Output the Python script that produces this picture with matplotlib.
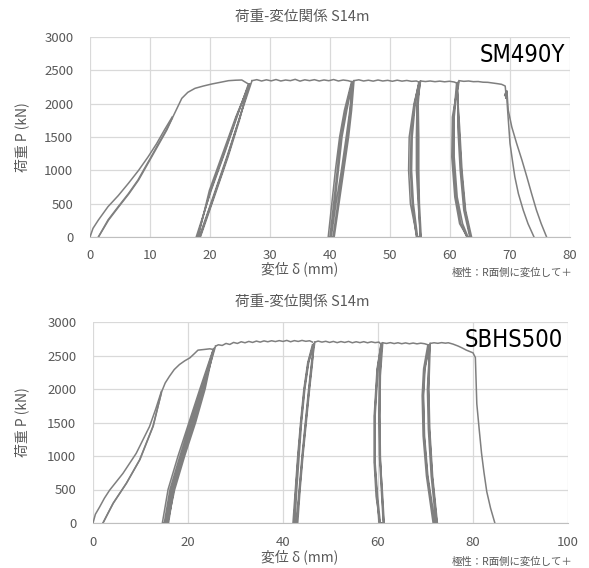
"""Load-displacement curves (S14m) for SM490Y and SBHS500 specimens."""

import matplotlib
matplotlib.use("Agg")
import matplotlib.pyplot as plt
from matplotlib import font_manager as fm

plt.rcParams["font.family"] = ["Noto Sans CJK JP", "DejaVu Sans"]

TITLE = "荷重-変位関係 S14m"
X_LABEL = "変位 δ (mm)"
Y_LABEL = "荷重 P (kN)"
NOTE = "極性：R面側に変位して＋"
Y_TICKS = [0, 500, 1000, 1500, 2000, 2500, 3000]

# ---- SM490Y (top) -------------------------------------------------------
SM_NAME = "SM490Y"
SM_X_TICKS = [0, 10, 20, 30, 40, 50, 60, 70, 80]

sm_first_d = [0, 0.5, 1.4, 3.0, 4.7, 6.4, 8.1, 9.7, 11.1, 12.4, 13.7]
sm_first_p = [0, 130, 255, 455, 620, 805, 1000, 1205, 1400, 1605, 1800]
sm_back_d = [13.7, 12.7, 11.4, 10.2, 8.9, 8.0, 6.4, 4.7, 3.0, 1.4]
sm_back_p = [1780, 1605, 1400, 1205, 1000, 855, 650, 455, 255, 0]
sm_skel_d = [1.4, 3.1, 4.8, 6.5, 8.1, 10.3, 12.8, 13.7, 14.5, 15.3, 16.3,
             17.5, 18.9, 20.3, 21.7, 23.1, 24.3, 25.3, 26.4]
sm_skel_p = [0, 255, 455, 650, 855, 1205, 1605, 1780, 1930, 2080, 2170,
             2230, 2265, 2295, 2320, 2345, 2352, 2355, 2295]

sm_loop1_d = [26.4, 24.5, 22.4, 20.2, 17.7, 18.4, 20.9, 23.0, 24.9, 26.5,
              24.4, 22.3, 20.1, 17.9, 18.2, 20.7, 22.8, 24.8, 26.6,
              24.3, 22.1, 19.9, 18.0, 18.3, 20.8, 22.9, 24.8, 27.0]
sm_loop1_p = [2295, 1800, 1250, 700, 0, 0, 650, 1200, 1750, 2290,
              1800, 1250, 700, 0, 0, 650, 1200, 1750, 2300,
              1800, 1250, 700, 0, 0, 650, 1200, 1750, 2345]

sm_plat1_d = [27.0, 27.8, 28.6, 29.4, 30.2, 31.0, 31.8, 32.6, 33.4, 34.2, 35.0,
              35.8, 36.6, 37.4, 38.2, 39.0, 39.8, 40.6, 41.4, 42.2, 43.0, 43.6]
sm_plat1_p = [2345, 2360, 2340, 2358, 2342, 2362, 2340, 2355, 2345, 2365, 2338,
              2358, 2345, 2360, 2340, 2356, 2344, 2362, 2340, 2355, 2345, 2330]

sm_loop2_d = [43.6, 42.4, 41.6, 40.9, 40.3, 39.7, 40.5, 41.3, 42.1, 42.9, 43.4, 43.7,
              42.6, 41.8, 41.2, 40.6, 40.0, 40.2, 41.0, 41.9, 42.7, 43.3, 43.8,
              42.8, 42.0, 41.4, 40.8, 40.1, 40.7, 41.5, 42.3, 43.1, 43.6, 44.0]
sm_loop2_p = [2330, 1900, 1500, 1000, 500, 0, 0, 500, 1000, 1500, 1900, 2330,
              1900, 1500, 1000, 500, 0, 0, 500, 1000, 1500, 1900, 2335,
              1900, 1500, 1000, 500, 0, 0, 500, 1000, 1500, 1900, 2345]

sm_plat2_d = [44.0, 44.8, 45.6, 46.4, 47.2, 48.0, 48.8, 49.6, 50.4, 51.2, 52.0,
              52.8, 53.6, 54.4, 54.8]
sm_plat2_p = [2345, 2358, 2340, 2352, 2338, 2355, 2340, 2350, 2336, 2352, 2338,
              2348, 2335, 2340, 2325]

sm_loop3_d = [54.8, 54.1, 53.5, 53.4, 53.7, 54.4, 55.0, 54.8, 54.6, 54.6, 54.6, 54.9,
              54.0, 53.2, 53.1, 53.4, 54.5, 55.2, 54.9, 54.8, 54.8, 54.7, 55.0,
              54.2, 53.7, 53.6, 53.9, 54.6, 55.1, 54.7, 54.4, 54.4, 54.5, 55.1]
sm_loop3_p = [2325, 2000, 1500, 1000, 500, 0, 0, 500, 1000, 1500, 2000, 2330,
              2000, 1500, 1000, 500, 0, 0, 500, 1000, 1500, 2000, 2335,
              2000, 1500, 1000, 500, 0, 0, 500, 1000, 1500, 2000, 2340]

sm_plat3_d = [55.1, 55.9, 56.7, 57.5, 58.3, 59.1, 59.9, 60.7, 61.1]
sm_plat3_p = [2340, 2332, 2340, 2330, 2338, 2328, 2336, 2325, 2310]

sm_loop4_d = [61.1, 60.6, 60.5, 61.0, 61.8, 62.8, 63.6, 62.6, 62.0, 61.6, 61.2, 61.3,
              60.7, 60.7, 61.2, 62.1, 63.0, 63.4, 62.5, 61.9, 61.5, 61.2, 61.4,
              60.4, 60.3, 60.8, 61.6, 62.9, 63.3, 62.3, 61.7, 61.3, 61.3, 61.5]
sm_loop4_p = [2310, 1800, 1200, 600, 200, 0, 0, 400, 1000, 1650, 2200, 2320,
              1800, 1200, 600, 200, 0, 0, 400, 1000, 1650, 2200, 2325,
              1800, 1200, 600, 200, 0, 0, 400, 1000, 1650, 2200, 2335]

sm_plat4_d = [61.5, 62.3, 63.1, 63.9, 64.7, 65.5, 66.3, 67.1, 67.9, 68.6, 69.2,
              69.3, 69.1, 69.5, 69.3, 69.5]
sm_plat4_p = [2345, 2335, 2340, 2330, 2332, 2322, 2320, 2310, 2300, 2290, 2265,
              2170, 2120, 2190, 2080, 2180]

sm_tail_out_d = [69.5, 69.7, 70.3, 71.1, 72.0, 72.8, 73.6, 74.4, 75.2, 76.1]
sm_tail_out_p = [2180, 1905, 1650, 1405, 1150, 905, 650, 405, 200, 0]
sm_tail_in_d = [69.4, 69.6, 70.0, 70.4, 70.8, 71.4, 72.2, 73.0, 74.0]
sm_tail_in_p = [2180, 1905, 1405, 1150, 905, 650, 405, 200, 0]

# ---- SBHS500 (bottom) ---------------------------------------------------
SB_NAME = "SBHS500"
SB_X_TICKS = [0, 20, 40, 60, 80, 100]

sb_first_d = [0, 0.5, 1.4, 2.4, 3.5, 4.9, 6.3, 7.7, 9.1, 10.5, 11.9, 13.2, 14.4]
sb_first_p = [0, 130, 240, 370, 490, 615, 740, 890, 1040, 1240, 1440, 1700, 1965]
sb_back_d = [14.4, 13.5, 12.6, 11.2, 9.8, 8.4, 7.0, 5.6, 4.2, 3.1, 2.1]
sb_back_p = [1940, 1690, 1440, 1190, 940, 765, 590, 440, 290, 140, 0]
sb_skel_d = [2.1, 3.2, 4.3, 5.7, 7.1, 8.5, 9.9, 11.3, 12.7, 14.4, 15.2, 16.1,
             17.1, 18.2, 19.3, 20.4, 21.3, 22.1, 23.4, 24.6, 25.3]
sb_skel_p = [0, 150, 300, 450, 600, 775, 950, 1200, 1450, 1950, 2090, 2190,
             2290, 2365, 2420, 2465, 2525, 2580, 2590, 2600, 2590]

sb_loop1_d = [25.3, 22.5, 20.2, 17.9, 15.8, 14.6, 15.7, 17.2, 19.3, 21.6, 23.6, 25.4,
              22.8, 20.5, 18.3, 16.2, 15.0, 15.9, 17.0, 19.0, 21.3, 23.3, 25.5,
              23.0, 20.8, 18.6, 16.5, 15.3, 15.5, 16.8, 18.8, 21.0, 23.2, 25.8]
sb_loop1_p = [2590, 2000, 1500, 1000, 500, 0, 0, 500, 1000, 1500, 2000, 2600,
              2000, 1500, 1000, 500, 0, 0, 500, 1000, 1500, 2000, 2610,
              2000, 1500, 1000, 500, 0, 0, 500, 1000, 1500, 2000, 2640]

sb_plat1_d = [25.8, 26.4, 27.2, 28.0, 28.8, 29.6, 30.4, 31.2, 32.0, 32.8, 33.6,
              34.4, 35.2, 36.0, 36.8, 37.6, 38.4, 39.2, 40.0, 40.8, 41.6, 42.4,
              43.2, 44.0, 44.8, 45.6, 46.2]
sb_plat1_p = [2640, 2660, 2650, 2680, 2665, 2695, 2680, 2705, 2690, 2710, 2695,
              2715, 2700, 2718, 2705, 2720, 2708, 2722, 2710, 2725, 2705, 2722,
              2710, 2725, 2712, 2720, 2700]

sb_loop2_d = [46.2, 45.2, 44.4, 43.7, 43.1, 42.6, 42.1, 43.1, 43.6, 44.2, 44.9, 45.6, 46.2, 46.4,
              45.3, 44.5, 43.8, 43.2, 42.7, 42.3, 42.8, 43.4, 44.0, 44.7, 45.4, 46.0, 46.5,
              45.4, 44.6, 43.9, 43.4, 42.9, 42.5, 42.9, 43.5, 44.1, 44.8, 45.5, 46.1, 46.7]
sb_loop2_p = [2660, 2390, 2000, 1500, 1000, 500, 0, 0, 500, 1000, 1500, 2000, 2390, 2670,
              2390, 2000, 1500, 1000, 500, 0, 0, 500, 1000, 1500, 2000, 2390, 2680,
              2390, 2000, 1500, 1000, 500, 0, 0, 500, 1000, 1500, 2000, 2390, 2700]

sb_plat2_d = [46.7, 47.4, 48.2, 49.0, 49.8, 50.6, 51.4, 52.2, 53.0, 53.8, 54.6,
              55.4, 56.2, 57.0, 57.8, 58.6, 59.4, 60.2, 60.6]
sb_plat2_p = [2700, 2715, 2700, 2712, 2695, 2710, 2692, 2708, 2695, 2710, 2690,
              2705, 2692, 2706, 2690, 2704, 2692, 2700, 2670]

sb_loop3_d = [60.6, 59.9, 59.3, 59.3, 59.8, 60.2, 61.1, 60.7, 60.3, 60.2, 60.3, 60.7,
              59.8, 59.2, 59.2, 59.6, 60.4, 61.3, 60.9, 60.4, 60.3, 60.4, 60.8,
              60.0, 59.4, 59.4, 59.9, 60.5, 61.2, 60.8, 60.5, 60.4, 60.5, 61.0]
sb_loop3_p = [2670, 2300, 1600, 900, 400, 0, 0, 500, 1000, 1600, 2200, 2680,
              2300, 1600, 900, 400, 0, 0, 500, 1000, 1600, 2200, 2685,
              2300, 1600, 900, 400, 0, 0, 500, 1000, 1600, 2200, 2690]

sb_plat3_d = [61.0, 61.8, 62.6, 63.4, 64.2, 65.0, 65.8, 66.6, 67.4, 68.2, 69.0,
              69.8, 70.5]
sb_plat3_p = [2690, 2680, 2692, 2678, 2690, 2676, 2688, 2675, 2686, 2674, 2684,
              2676, 2660]

sb_loop4_d = [70.5, 69.6, 69.3, 69.5, 70.2, 71.6, 72.4, 71.4, 70.8, 70.6, 70.8,
              69.8, 69.5, 69.7, 70.4, 71.8, 72.2, 71.2, 70.6, 70.4, 70.9,
              69.9, 69.6, 69.8, 70.5, 72.0, 72.5, 71.5, 70.9, 70.7, 71.0]
sb_loop4_p = [2660, 2300, 1900, 1300, 700, 0, 0, 700, 1400, 2000, 2660,
              2300, 1900, 1300, 700, 0, 0, 700, 1400, 2000, 2665,
              2300, 1900, 1300, 700, 0, 0, 700, 1400, 2000, 2680]

sb_plat4_d = [71.0, 71.8, 72.6, 73.4, 74.2, 74.8, 75.8, 76.9, 77.8, 78.6, 79.3,
              80.0, 80.5, 80.8, 81.3, 81.8, 82.3, 82.9, 83.7, 84.6]
sb_plat4_p = [2680, 2690, 2682, 2692, 2684, 2690, 2670, 2640, 2610, 2580, 2560,
              2540, 2470, 1780, 1400, 1040, 760, 467, 220, 0]


def narrow_font():
    """Pick an installed condensed sans face for the specimen labels."""
    fonts = fm.fontManager.ttflist
    for f in fonts:
        if f.name == "Liberation Sans Narrow" and f.weight in (400, "normal", "regular") \
                and f.style == "normal":
            return fm.FontProperties(fname=f.fname)
    for f in fonts:
        if f.stretch in ("condensed", "semi-condensed", "extra-condensed") \
                and f.weight in (400, "normal", "regular") and f.style == "normal":
            return fm.FontProperties(fname=f.fname)
    return fm.FontProperties(family="DejaVu Sans")


NAME_FONT = narrow_font()


def style_axes(ax, x_ticks, name):
    ax.set_xlim(x_ticks[0], x_ticks[-1])
    ax.set_ylim(Y_TICKS[0], Y_TICKS[-1])
    ax.set_xticks(x_ticks)
    ax.set_yticks(Y_TICKS)
    ax.grid(color="#d9d9d9", lw=0.9)
    ax.set_axisbelow(True)
    for side in ["top", "right", "left"]:
        ax.spines[side].set_visible(False)
    ax.spines["bottom"].set_color("#bfbfbf")
    ax.tick_params(length=0, colors="#595959", labelsize=9.5)
    ax.tick_params(axis="y", pad=12)
    ax.tick_params(axis="x", pad=9)
    fp = NAME_FONT.copy()
    fp.set_size(17)
    ax.text(0.99, 0.97, name, transform=ax.transAxes, ha="right", va="top",
            color="black", fontproperties=fp)


def draw(ax, segments):
    for d, p in segments:
        ax.plot(d, p, color="#7f7f7f", lw=1.1)


fig = plt.figure(figsize=(5.89, 5.68), dpi=100)
ax1 = fig.add_axes([90 / 589, 1 - 237 / 568, 480 / 589, 200 / 568])
ax2 = fig.add_axes([93 / 589, 1 - 523 / 568, 475 / 589, 201 / 568])

draw(ax1, [(sm_first_d, sm_first_p), (sm_back_d, sm_back_p),
           (sm_skel_d, sm_skel_p), (sm_loop1_d, sm_loop1_p),
           (sm_plat1_d, sm_plat1_p), (sm_loop2_d, sm_loop2_p),
           (sm_plat2_d, sm_plat2_p), (sm_loop3_d, sm_loop3_p),
           (sm_plat3_d, sm_plat3_p), (sm_loop4_d, sm_loop4_p),
           (sm_plat4_d, sm_plat4_p), (sm_tail_out_d, sm_tail_out_p),
           (sm_tail_in_d, sm_tail_in_p)])
draw(ax2, [(sb_first_d, sb_first_p), (sb_back_d, sb_back_p),
           (sb_skel_d, sb_skel_p), (sb_loop1_d, sb_loop1_p),
           (sb_plat1_d, sb_plat1_p), (sb_loop2_d, sb_loop2_p),
           (sb_plat2_d, sb_plat2_p), (sb_loop3_d, sb_loop3_p),
           (sb_plat3_d, sb_plat3_p), (sb_loop4_d, sb_loop4_p),
           (sb_plat4_d, sb_plat4_p)])

style_axes(ax1, SM_X_TICKS, SM_NAME)
style_axes(ax2, SB_X_TICKS, SB_NAME)

grey = "#595959"
for title_y, ylab_y, xlab_y, note_y in [(17, 137, 269, 273), (302, 422, 557, 562)]:
    fig.text(302 / 589, 1 - title_y / 568, TITLE, ha="center", va="center",
             fontsize=10.5, color=grey)
    fig.text(22 / 589, 1 - ylab_y / 568, Y_LABEL, ha="center", va="center",
             rotation=90, fontsize=10, color=grey)
    fig.text(300 / 589, 1 - xlab_y / 568, X_LABEL, ha="center", va="center",
             fontsize=10, color=grey)
    fig.text(572 / 589, 1 - note_y / 568, NOTE, ha="right", va="center",
             fontsize=7.5, color=grey)

fig.savefig("out.png", dpi=100)
